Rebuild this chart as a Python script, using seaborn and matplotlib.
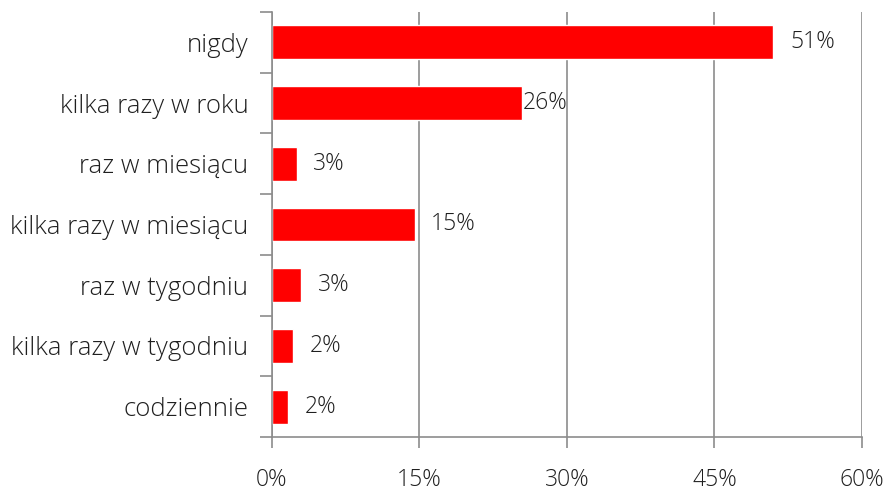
import matplotlib
matplotlib.use('Agg')
import matplotlib.pyplot as plt
import seaborn as sns
import pandas as pd
from matplotlib.ticker import FuncFormatter, FixedLocator

# dane
kategorie = ['nigdy', 'kilka razy w roku', 'raz w miesiącu', 'kilka razy w miesiącu',
             'raz w tygodniu', 'kilka razy w tygodniu', 'codziennie']
wartosci = [51.0, 25.4, 2.5, 14.5, 3.0, 2.1, 1.6]
etykiety = ['51%', '26%', '3%', '15%', '3%', '2%', '2%']
# przesunięcie etykiet (w punktach) jak w oryginale
przesuniecia = [12, 1, 12, 12, 12, 12, 12]

df = pd.DataFrame({'kategoria': kategorie, 'wartosc': wartosci})

sns.set_theme(style='white')
plt.rcParams['font.family'] = ['Open Sans', 'DejaVu Sans']
szary = '#8c8c8c'
tekst = '#1f1f1f'
rozmiar = 16.5

fig = plt.figure(figsize=(8.9, 4.92), dpi=100)
ax = fig.add_axes([0.3056, 0.1118, 0.6629, 0.8638])

sns.barplot(data=df, x='wartosc', y='kategoria', orient='h', color='#ff0000',
            saturation=1, width=0.56, ax=ax)

ax.set_xlim(0, 60)
ax.set_ylim(len(kategorie) - 0.5, -0.5)
ax.xaxis.set_major_locator(FixedLocator([0, 15, 30, 45, 60]))
ax.xaxis.set_major_formatter(FuncFormatter(lambda v, p: f'{int(v)}%'))
ax.grid(axis='x', color=szary, linewidth=1.2)
ax.set_axisbelow(True)

for s in ['top', 'right']:
    ax.spines[s].set_visible(False)
for s in ['left', 'bottom']:
    ax.spines[s].set_color(szary)
    ax.spines[s].set_linewidth(1.2)

# znaczniki osi Y na granicach kategorii
ax.set_yticks(range(len(kategorie)))
ax.set_yticklabels(kategorie, fontweight='light')
ax.set_yticks([i - 0.5 for i in range(len(kategorie) + 1)], minor=True)
ax.tick_params(axis='y', which='major', length=0, pad=17, labelsize=18.5, labelcolor=tekst)
ax.tick_params(axis='y', which='minor', length=9, width=1.2, color=szary, left=True)
ax.tick_params(axis='x', which='major', length=8, width=1.2, color=szary, bottom=True,
               pad=14, labelsize=rozmiar, labelcolor=tekst)
for t in ax.get_xticklabels():
    t.set_fontweight('light')
ax.set_xlabel('')
ax.set_ylabel('')

for i, p in enumerate(ax.patches):
    ax.annotate(etykiety[i], (p.get_width(), p.get_y() + p.get_height() / 2),
                xytext=(przesuniecia[i], 0), textcoords='offset points',
                ha='left', va='center', fontsize=rozmiar, fontweight='light', color=tekst)

plt.savefig('out.png', dpi=100)
